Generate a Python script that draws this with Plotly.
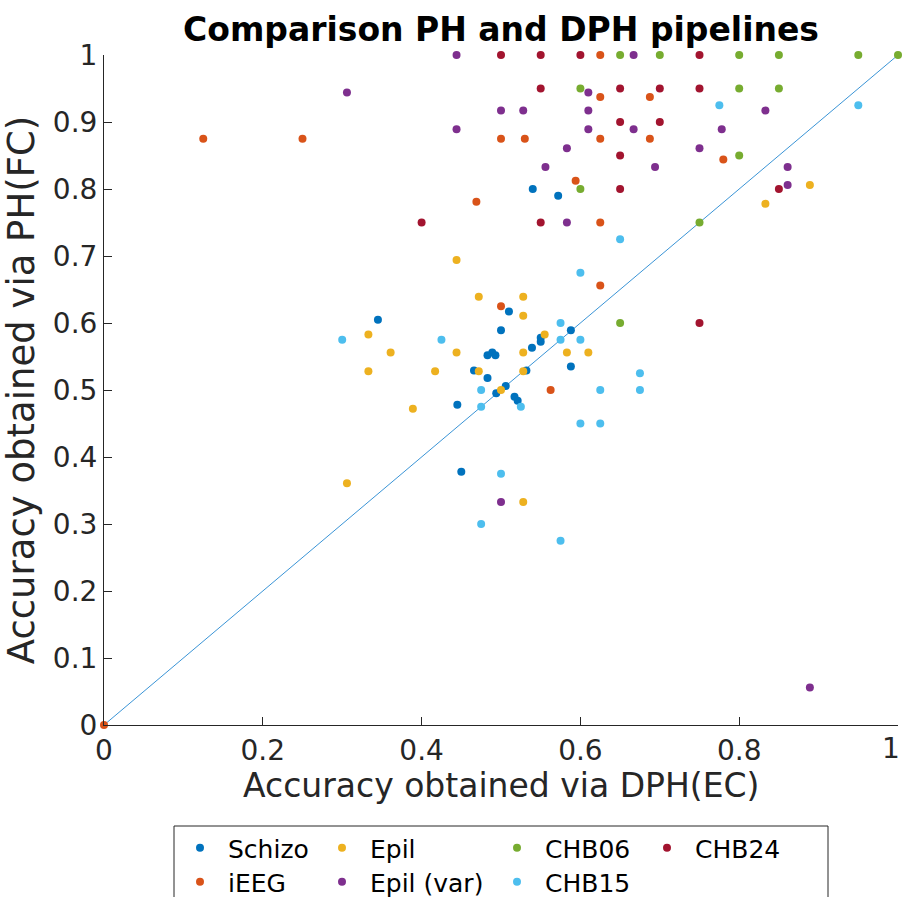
import plotly.graph_objects as go

# ---- data (x = DPH(EC) accuracy, y = PH(FC) accuracy) ----
schizo_x = [0.54, 0.572, 0.345, 0.51, 0.5, 0.588, 0.55, 0.55, 0.539, 0.489, 0.483, 0.493, 0.466, 0.532, 0.588, 0.483, 0.506, 0.494, 0.517, 0.521, 0.445, 0.45]
schizo_y = [0.8, 0.79, 0.605, 0.617, 0.589, 0.589, 0.578, 0.572, 0.563, 0.556, 0.552, 0.552, 0.529, 0.529, 0.535, 0.518, 0.506, 0.495, 0.49, 0.484, 0.478, 0.378]

ieeg_x = [0.0, 0.125, 0.25, 0.625, 0.625, 0.6875, 0.5, 0.53, 0.625, 0.6875, 0.78, 0.594, 0.469, 0.625, 0.625, 0.5, 0.5625]
ieeg_y = [0.0, 0.875, 0.875, 1.0, 0.9375, 0.9375, 0.875, 0.875, 0.875, 0.875, 0.844, 0.8125, 0.781, 0.75, 0.656, 0.625, 0.5]

epil_x = [0.889, 0.833, 0.444, 0.472, 0.528, 0.528, 0.333, 0.555, 0.361, 0.444, 0.528, 0.583, 0.61, 0.333, 0.417, 0.472, 0.528, 0.5, 0.389, 0.306, 0.528]
epil_y = [0.806, 0.778, 0.694, 0.639, 0.639, 0.611, 0.583, 0.583, 0.556, 0.556, 0.556, 0.556, 0.556, 0.528, 0.528, 0.528, 0.528, 0.5, 0.472, 0.361, 0.333]

epilvar_x = [0.444, 0.667, 0.306, 0.61, 0.5, 0.528, 0.61, 0.833, 0.444, 0.61, 0.667, 0.778, 0.583, 0.75, 0.556, 0.694, 0.861, 0.861, 0.583, 0.5, 0.889]
epilvar_y = [1.0, 1.0, 0.944, 0.944, 0.917, 0.917, 0.917, 0.917, 0.889, 0.889, 0.889, 0.889, 0.861, 0.861, 0.833, 0.833, 0.833, 0.806, 0.75, 0.333, 0.056]

chb06_x = [0.65, 0.7, 0.8, 0.85, 0.95, 1.0, 0.6, 0.8, 0.85, 0.8, 0.6, 0.75, 0.65]
chb06_y = [1.0, 1.0, 1.0, 1.0, 1.0, 1.0, 0.95, 0.95, 0.95, 0.85, 0.8, 0.75, 0.6]

chb15_x = [0.775, 0.95, 0.65, 0.6, 0.575, 0.3, 0.425, 0.575, 0.6, 0.675, 0.625, 0.675, 0.475, 0.525, 0.475, 0.6, 0.625, 0.5, 0.475, 0.575]
chb15_y = [0.925, 0.925, 0.725, 0.675, 0.6, 0.575, 0.575, 0.575, 0.575, 0.525, 0.5, 0.5, 0.5, 0.475, 0.475, 0.45, 0.45, 0.375, 0.3, 0.275]

chb24_x = [0.5, 0.55, 0.6, 0.75, 0.55, 0.65, 0.7, 0.75, 0.65, 0.7, 0.65, 0.65, 0.85, 0.4, 0.55, 0.75]
chb24_y = [1.0, 1.0, 1.0, 1.0, 0.95, 0.95, 0.95, 0.95, 0.9, 0.9, 0.85, 0.8, 0.8, 0.75, 0.75, 0.6]

diag = [0, 1]

x_ticks = [0, 0.2, 0.4, 0.6, 0.8, 1]
x_ticktext = ["0", "0.2", "0.4", "0.6", "0.8", "1"]
y_ticks = [0, 0.1, 0.2, 0.3, 0.4, 0.5, 0.6, 0.7, 0.8, 0.9, 1]
y_ticktext = ["0", "0.1", "0.2", "0.3", "0.4", "0.5", "0.6", "0.7", "0.8", "0.9", "1"]

# name, x, y, colour, legend column, legend row
series = [
    ("Schizo", schizo_x, schizo_y, "#0072BD", 0, 0),
    ("iEEG", ieeg_x, ieeg_y, "#D95319", 0, 1),
    ("Epil", epil_x, epil_y, "#EDB120", 1, 0),
    ("Epil (var)", epilvar_x, epilvar_y, "#7E2F8E", 1, 1),
    ("CHB06", chb06_x, chb06_y, "#77AC30", 2, 0),
    ("CHB15", chb15_x, chb15_y, "#4DBEEE", 2, 1),
    ("CHB24", chb24_x, chb24_y, "#A2142F", 3, 0),
]

FONT = "DejaVu Sans"
INK = "#262626"
W, H = 902, 897
L, R, T, B = 104, 4, 55, 172
PW, PH = W - L - R, H - T - B


def px_to_paper_x(px):
    return (px - L) / PW


def px_to_paper_y(py):
    return (H - B - py) / PH


legend_col_px = [200, 342, 517, 667]
legend_row_px = [848, 882]
ITEMW = 46

fig = go.Figure()
fig.add_trace(go.Scatter(x=diag, y=diag, mode="lines", line=dict(color="#3A94D6", width=1),
                         showlegend=False, hoverinfo="skip"))

legends = {}
for i, (name, xs, ys, col, lc, lr) in enumerate(series):
    key = "legend" if i == 0 else f"legend{i + 1}"
    fig.add_trace(go.Scatter(x=xs, y=ys, mode="markers", name=name,
                             marker=dict(color=col, size=8, line=dict(width=0)),
                             cliponaxis=False, legend=key))
    legends[key] = dict(
        x=px_to_paper_x(legend_col_px[lc] - (5 + ITEMW / 2)), xanchor="left",
        y=px_to_paper_y(legend_row_px[lr]), yanchor="middle",
        bgcolor="rgba(0,0,0,0)", borderwidth=0, itemwidth=ITEMW,
        font=dict(family=FONT, size=25, color="black"),
    )

# the last x tick label sits at the page edge: draw it right-aligned so it stays whole
x_ticktext_axis = x_ticktext[:-1] + [""]

fig.update_layout(
    width=W, height=H,
    margin=dict(l=L, r=R, t=T, b=B, autoexpand=False),
    paper_bgcolor="white", plot_bgcolor="white",
    font=dict(family=FONT, color=INK, size=22),
    title=dict(text="<b>Comparison PH and DPH pipelines</b>", x=(L + 898) / 2 / W, xanchor="center",
               y=1 - 29 / H, yanchor="middle", font=dict(family=FONT, size=33, color="black")),
    xaxis=dict(range=[0, 1], tickvals=x_ticks, ticktext=x_ticktext_axis,
               showline=True, linecolor=INK, linewidth=1, ticks="inside", ticklen=8, tickcolor=INK,
               showgrid=False, zeroline=False, tickfont=dict(size=28), ticklabeloverflow="allow"),
    yaxis=dict(range=[0, 1], tickvals=y_ticks, ticktext=y_ticktext,
               showline=True, linecolor=INK, linewidth=1, ticks="inside", ticklen=8, tickcolor=INK,
               showgrid=False, zeroline=False, tickfont=dict(size=28), ticklabeloverflow="allow",
               title=dict(text="Accuracy obtained via PH(FC)", font=dict(size=37), standoff=6)),
    annotations=[
        dict(text="Accuracy obtained via DPH(EC)", xref="paper", yref="paper",
             x=0.5, y=px_to_paper_y(785), xanchor="center", yanchor="middle",
             showarrow=False, font=dict(family=FONT, size=33, color=INK)),
        dict(text=x_ticktext[-1], xref="paper", yref="paper",
             x=px_to_paper_x(901), y=px_to_paper_y(748), xanchor="right", yanchor="middle",
             showarrow=False, borderpad=0, font=dict(family=FONT, size=28, color=INK)),
    ],
    shapes=[dict(type="rect", xref="paper", yref="paper",
                 x0=px_to_paper_x(174), x1=px_to_paper_x(828),
                 y0=px_to_paper_y(826), y1=px_to_paper_y(910),
                 line=dict(color=INK, width=1), fillcolor="rgba(0,0,0,0)", layer="below")],
    **legends,
)

fig.write_html("out.html")
